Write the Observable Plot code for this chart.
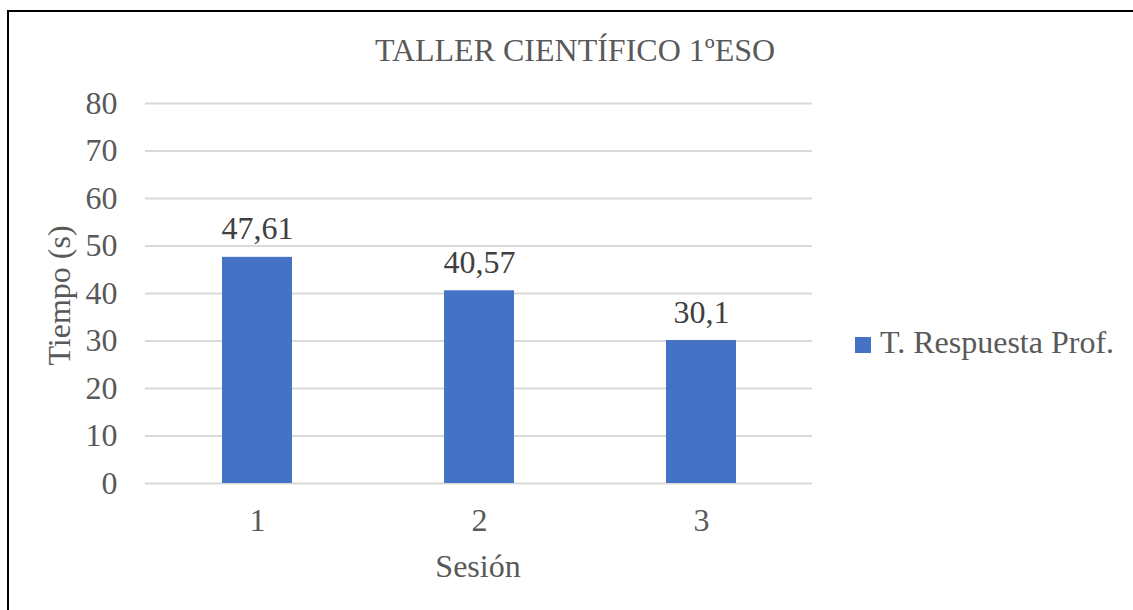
<!DOCTYPE html>
<html>
<head>
<meta charset="utf-8">
<script src="https://cdn.jsdelivr.net/npm/d3@7"></script>
<script src="https://cdn.jsdelivr.net/npm/@observablehq/plot@0.6"></script>
<style>
  html, body { margin: 0; padding: 0; background: #fff; }
  #wrap { position: relative; width: 1133px; height: 610px; overflow: hidden; font-family: "Liberation Serif", "Times New Roman", serif; color: #595959; }
  #border { position: absolute; left: 7px; top: 10px; width: 1200px; height: 700px; border-top: 2px solid #000; border-left: 2px solid #000; box-sizing: border-box; }
  #chart { position: absolute; left: 0; top: 0; }
  #legend { position: absolute; left: 855px; top: 326px; white-space: nowrap; font-size: 32px; line-height: 32px; }
  #legend .sw { position: absolute; left: 0; top: 11px; width: 16px; height: 16px; background: #4472C4; }
  #legend .lbl { position: absolute; left: 25px; top: 0; }
</style>
</head>
<body>
<div id="wrap">
  <div id="border"></div>
  <div id="chart"></div>
  <div id="legend"><span class="sw"></span><span class="lbl">T. Respuesta Prof.</span></div>
</div>
<script>
const sessions = ["1", "2", "3"];
const values = [47.61, 40.57, 30.1];
const yTicks = [0, 10, 20, 30, 40, 50, 60, 70, 80];
const title = "TALLER CIENTÍFICO 1ºESO";
const xLabel = "Sesión";
const yLabel = "Tiempo (s)";
const seriesName = "T. Respuesta Prof.";

document.querySelector("#legend .lbl").textContent = seriesName;

const data = sessions.map((s, i) => ({session: s, value: values[i]}));
const fmt = v => String(v).replace(".", ",");
const color = "#4472C4";

const chart = Plot.plot({
  width: 1133,
  height: 610,
  marginLeft: 145,
  marginRight: 321,
  marginTop: 103,
  marginBottom: 127,
  style: {fontFamily: "'Liberation Serif', 'Times New Roman', serif", fontSize: "32px", color: "#595959", background: "transparent"},
  x: {type: "band", domain: sessions, paddingInner: 0.685, paddingOuter: 0.3425},
  y: {domain: [0, 80]},
  marks: [
    Plot.ruleY(yTicks, {stroke: "#d9d9d9", strokeWidth: 2}),
    Plot.barY(data, {x: "session", y: "value", fill: color}),
    Plot.text(data, {x: "session", y: "value", text: d => fmt(d.value), lineAnchor: "bottom", dy: -18, fill: "#404040", fontSize: 32}),
    Plot.axisY({ticks: yTicks, tickSize: 0, tickPadding: 28, label: null, tickFormat: d => String(d)}),
    Plot.axisX({tickSize: 0, tickPadding: 25, label: null}),
    Plot.text([title], {frameAnchor: "top", text: d => d, lineAnchor: "bottom", textAnchor: "middle", dx: 96, dy: -43, fontSize: 32, fill: "#595959"}),
    Plot.text([xLabel], {frameAnchor: "bottom", text: d => d, lineAnchor: "bottom", textAnchor: "middle", dx: -1, dy: 93, fontSize: 32, fill: "#595959"}),
    Plot.text([yLabel], {frameAnchor: "left", text: d => d, rotate: -90, lineAnchor: "bottom", textAnchor: "middle", dx: -76, dy: 2, fontSize: 32, fill: "#595959"})
  ]
});
document.getElementById("chart").appendChild(chart);
</script>
</body>
</html>
